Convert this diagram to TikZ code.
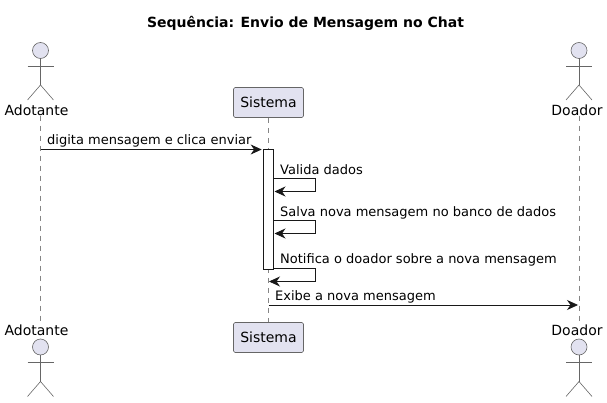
\documentclass[tikz,border=0pt]{standalone}
\usepackage{fontspec}
\setmainfont{DejaVu Sans}
\usetikzlibrary{arrows.meta}
\definecolor{umlfill}{HTML}{E2E2F0}
\definecolor{umlline}{HTML}{181818}
\definecolor{umlgray}{HTML}{666666}
\tikzset{
	msg/.style={draw=umlline, line width=.8pt, -{Stealth[length=11pt,width=10pt,inset=3.5pt]}},
	msgtext/.style={anchor=base west, inner sep=0pt, font=\fontsize{13}{15}\selectfont, text=black},
	lifeline/.style={draw=umlgray!80, line width=.5pt, dash pattern=on 5pt off 5pt},
	partbox/.style={draw=umlgray, fill=umlfill, rounded corners=1.5pt, line width=.6pt, minimum width=70pt, minimum height=30pt, inner sep=0pt, font=\fontsize{14}{16}\selectfont},
	actorlabel/.style={inner sep=0pt, font=\fontsize{14}{16}\selectfont, text=black},
	actorline/.style={draw=umlgray, line width=.6pt},
	activation/.style={draw=umlline, fill=white, line width=.7pt, minimum width=10pt, minimum height=119.5pt, inner sep=0pt, anchor=north}
}
\begin{document}
\begin{tikzpicture}[x=1pt, y=-1pt]
\useasboundingbox (0,0) rectangle (607,403);
%title
\node[anchor=base, inner sep=0pt, font=\bfseries\fontsize{14}{16}\selectfont] (title) at (305.5,28) {Sequência: Envio de Mensagem no Chat};
%participants
\node[partbox] (sistema top) at (268.5,102.5) {Sistema};
\node[partbox] (sistema bot) at (268.5,337.5) {Sistema};
%actors
\foreach \x/\lx/\name in {40.5/36.5/Adotante, 579/577/Doador} {
	\coordinate (\name axis) at (\x,0);
	\node[actorlabel] (\name top) at (\lx,110) {\name};
	\node[actorlabel] (\name bot) at (\lx,330) {\name};
	\draw[lifeline] (\name top.south -| \name axis) -- (\name bot.north -| \name axis);
	\foreach \y in {50.5, 347} {
		\draw[actorline, fill=umlfill] (\x,\y) circle (8);
		\draw[actorline] (\x,\y+8) -- (\x,\y+34.5);
		\draw[actorline] (\x-13,\y+15.5) -- (\x+13,\y+15.5);
		\draw[actorline] (\x-13,\y+49.5) -- (\x,\y+34.5) -- (\x+13,\y+49.5);
	}
}
\draw[lifeline] (sistema top) -- (sistema bot);
%activation
\node[activation] (act) at (268.5,149.5) {};
%messages
\coordinate (m1 from) at (40.5,149.5);
\coordinate (m5 from) at (268.5,305);
\coordinate (m5 to) at (578,305);
\draw[msg, shorten >=1.5pt] (m1 from) -- (act.north west);
\foreach \y/\tip in {178.5/274.5, 220.5/274.5, 268.5/269} {
	\draw[msg] (273.5,\y) -- (315.5,\y) -- (315.5,\y+13) -- (\tip,\y+13);
}
\draw[msg] (m5 from) -- (m5 to);
%labels
\node[msgtext] (m1 text) at (47,145) {digita mensagem e clica enviar};
\node[msgtext] (m2 text) at (280,175) {Valida dados};
\node[msgtext] (m3 text) at (280,216.5) {Salva nova mensagem no banco de dados};
\node[msgtext] (m4 text) at (280,263.5) {Notifica o doador sobre a nova mensagem};
\node[msgtext] (m5 text) at (275,300.5) {Exibe a nova mensagem};
\end{tikzpicture}
\end{document}
